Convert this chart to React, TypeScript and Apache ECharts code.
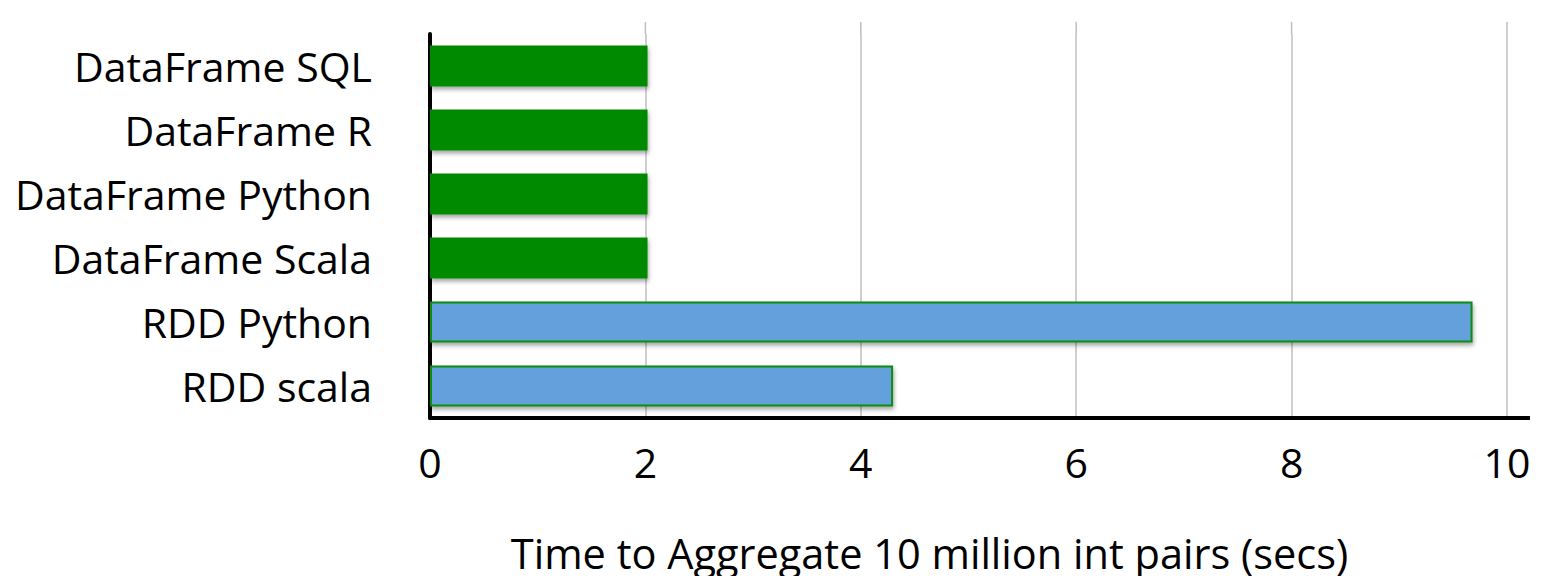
import React, { useEffect, useRef } from "react";
import * as echarts from "echarts";

const categories = [
  "RDD scala",
  "RDD Python",
  "DataFrame Scala",
  "DataFrame Python",
  "DataFrame R",
  "DataFrame SQL",
];
const values = [4.3, 9.68, 2.02, 2.02, 2.02, 2.02];
const kinds = ["rdd", "rdd", "df", "df", "df", "df"];
const xTicks = [0, 2, 4, 6, 8, 10];
const axisTitle = "Time to Aggregate 10 million int pairs (secs)";

const FONT = "'Open Sans', Lato, sans-serif";

export default function App() {
  const ref = useRef<HTMLDivElement>(null);
  useEffect(() => {
    if (!ref.current) return;
    const chart = echarts.init(ref.current, undefined, { renderer: "svg" });
    const shadow = {
      shadowBlur: 4,
      shadowOffsetX: 1,
      shadowOffsetY: 3,
      shadowColor: "rgba(0,0,0,0.35)",
    };
    const data = values.map((v, i) => {
      const isDf = kinds[i] === "df";
      return {
        value: v,
        itemStyle: isDf
          ? { color: "#008a00", borderWidth: 0, ...shadow }
          : { color: "#64a0dc", borderColor: "#0c8c0c", borderWidth: 2, ...shadow },
      };
    });
    const gridTop = 34;
    const gridBottom = 166;
    chart.setOption({
      animation: false,
      backgroundColor: "#ffffff",
      grid: { left: 430, right: 43, top: gridTop, bottom: gridBottom, containLabel: false },
      xAxis: {
        type: "value",
        min: xTicks[0],
        max: xTicks[xTicks.length - 1],
        interval: 2,
        name: axisTitle,
        nameLocation: "middle",
        nameGap: 114,
        nameTextStyle: {
          fontFamily: FONT,
          fontSize: 41.5,
          color: "#000",
          padding: [0, 78, 0, 0],
        },
        axisLine: { show: true, lineStyle: { color: "#000", width: 4 } },
        axisTick: { show: false },
        axisLabel: { fontFamily: FONT, fontSize: 41, color: "#000", margin: 23 },
        splitLine: { show: true, lineStyle: { color: "#bfbfbf", width: 1.5 } },
      },
      yAxis: {
        type: "category",
        data: categories,
        axisLine: { show: true, lineStyle: { color: "#000", width: 4 } },
        axisTick: { show: false },
        axisLabel: { fontFamily: FONT, fontSize: 41, color: "#000", margin: 58 },
        splitLine: { show: false },
      },
      series: [
        {
          type: "bar",
          data,
          barWidth: 41,
        },
      ],
    });
    // decorations: axis line extends past last tick; gridlines rise above the plot top
    const end = chart.convertToPixel({ xAxisIndex: 0 }, xTicks[xTicks.length - 1]) as number;
    const axisY = 584 - gridBottom;
    const graphics: any[] = [
      {
        type: "line",
        shape: { x1: end - 2, y1: axisY, x2: end + 23, y2: axisY },
        style: { stroke: "#000", lineWidth: 4 },
        z: 10,
      },
    ];
    xTicks.slice(1).forEach((t) => {
      const x = chart.convertToPixel({ xAxisIndex: 0 }, t) as number;
      graphics.push({
        type: "line",
        shape: { x1: x, y1: 22, x2: x, y2: gridTop },
        style: { stroke: "#bfbfbf", lineWidth: 1.5 },
        z: 0,
      });
    });
    chart.setOption({ graphic: graphics });
    return () => chart.dispose();
  }, []);
  return <div ref={ref} style={{ width: 1550, height: 584, margin: -8 }} />;
}
